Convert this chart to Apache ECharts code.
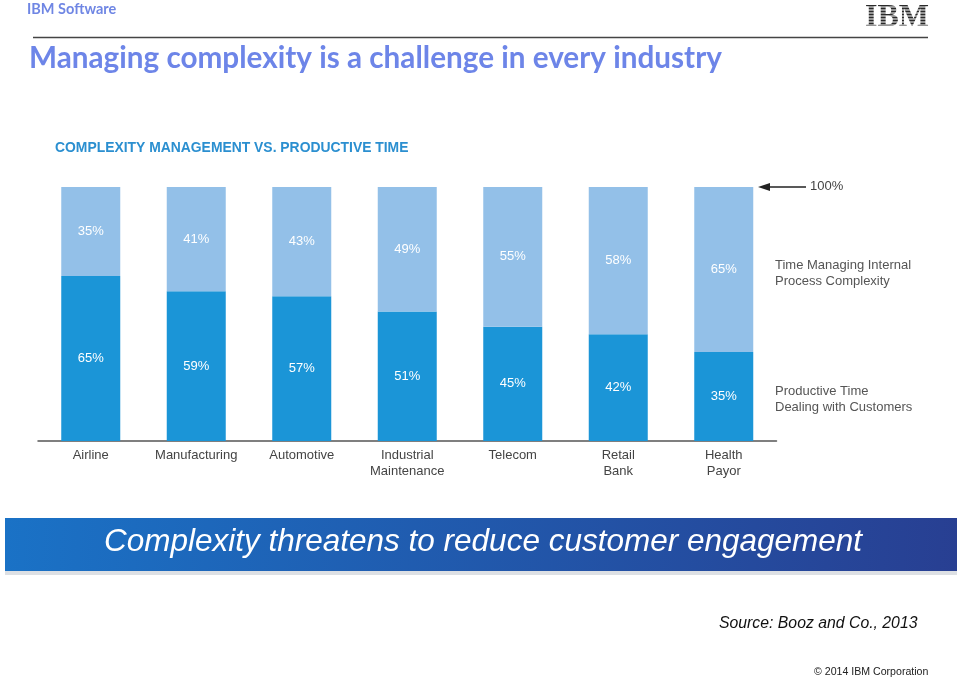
<!DOCTYPE html>
<html><head><meta charset="utf-8">
<script src="https://cdn.jsdelivr.net/npm/echarts@6/dist/echarts.min.js"></script>
<style>html,body{margin:0;padding:0;background:#fff}#c{width:960px;height:678px}</style>
</head><body><div id="c"></div>
<script>
const categories = ['Airline','Manufacturing','Automotive','Industrial\nMaintenance','Telecom','Retail\nBank','Health\nPayor'];
const productiveTime = [65,59,57,51,45,42,35];
const complexityTime = [35,41,43,49,55,58,65];

const chart = echarts.init(document.getElementById('c'));
const F = 'Liberation Sans, Arial, sans-serif';
const logoStripes = [];
for (let i = 0; i < 8; i++) {
  logoStripes.push({type:'rect', shape:{x:862, y:6.4 + i*3, width:72, height:1.2}, style:{fill:'#fff'}, z:120});
}
chart.setOption({
  animation:false,
  backgroundColor:'#fff',
  grid:{left:38, right:183.5, top:187, bottom:237, containLabel:false},
  xAxis:{type:'category', data:categories,
    axisLine:{lineStyle:{color:'#555', width:1.5}}, axisTick:{show:false},
    axisLabel:{interval:0, color:'#444', fontFamily:F, fontSize:13, lineHeight:16, margin:6}},
  yAxis:{type:'value', min:0, max:100, show:false, splitLine:{show:false}},
  series:[
    {type:'bar', stack:'t', data:productiveTime, barWidth:59,
     itemStyle:{color:'#1b95d7'},
     label:{show:true, position:'inside', color:'#fff', fontFamily:F, fontSize:13, formatter:'{c}%'}},
    {type:'bar', stack:'t', data:complexityTime, barWidth:59,
     itemStyle:{color:'#93c0e8'},
     label:{show:true, position:'inside', color:'#fff', fontFamily:F, fontSize:13, formatter:'{c}%'}}
  ],
  graphic:[
    {type:'text', left:27, top:2, style:{text:'IBM Software', fill:'#6f86e4', font:'bold 14.5px Lato, sans-serif'}},
    {type:'line', shape:{x1:33, y1:37.5, x2:928, y2:37.5}, style:{stroke:'#444', lineWidth:1.5}},
    {type:'text', left:29, top:43, style:{text:'Managing complexity is a challenge in every industry', fill:'#6d85e8', font:'bold 29.7px Lato, sans-serif'}},
    {type:'text', left:865, top:2, style:{text:'IBM', fill:'#2a2a2a', font:'bold 32px "Liberation Serif", serif'}, z:110},
    ...logoStripes,
    {type:'text', left:55, top:141, style:{text:'COMPLEXITY MANAGEMENT VS. PRODUCTIVE TIME', fill:'#2b8fd0', font:'bold 13.9px ' + F}},
    {type:'line', shape:{x1:766, y1:187, x2:806, y2:187}, style:{stroke:'#222', lineWidth:1.5}},
    {type:'polygon', shape:{points:[[758,187],[770,183],[770,191]]}, style:{fill:'#222'}},
    {type:'text', left:810, top:180, style:{text:'100%', fill:'#444', font:'13px ' + F}},
    {type:'text', left:775, top:257, style:{text:'Time Managing Internal\nProcess Complexity', fill:'#555', font:'13px ' + F, lineHeight:16}},
    {type:'text', left:775, top:383, style:{text:'Productive Time\nDealing with Customers', fill:'#555', font:'13px ' + F, lineHeight:16}},
    {type:'rect', shape:{x:5, y:571, width:952, height:4}, style:{fill:'#dde0e4'}},
    {type:'rect', shape:{x:5, y:518, width:952, height:53},
     style:{fill:new echarts.graphic.LinearGradient(0,0,1,1,[{offset:0,color:'#1a72c6'},{offset:1,color:'#283f92'}])}},
    {type:'text', x:483, y:542, style:{text:'Complexity threatens to reduce customer engagement', fill:'#fff', font:'italic 31.5px ' + F, textAlign:'center', textVerticalAlign:'middle'}},
    {type:'text', left:719, top:616, style:{text:'Source: Booz and Co., 2013', fill:'#111', font:'italic 15.8px ' + F}},
    {type:'text', left:814, top:667, style:{text:'© 2014 IBM Corporation', fill:'#222', font:'10.6px ' + F}}
  ]
});
</script></body></html>
